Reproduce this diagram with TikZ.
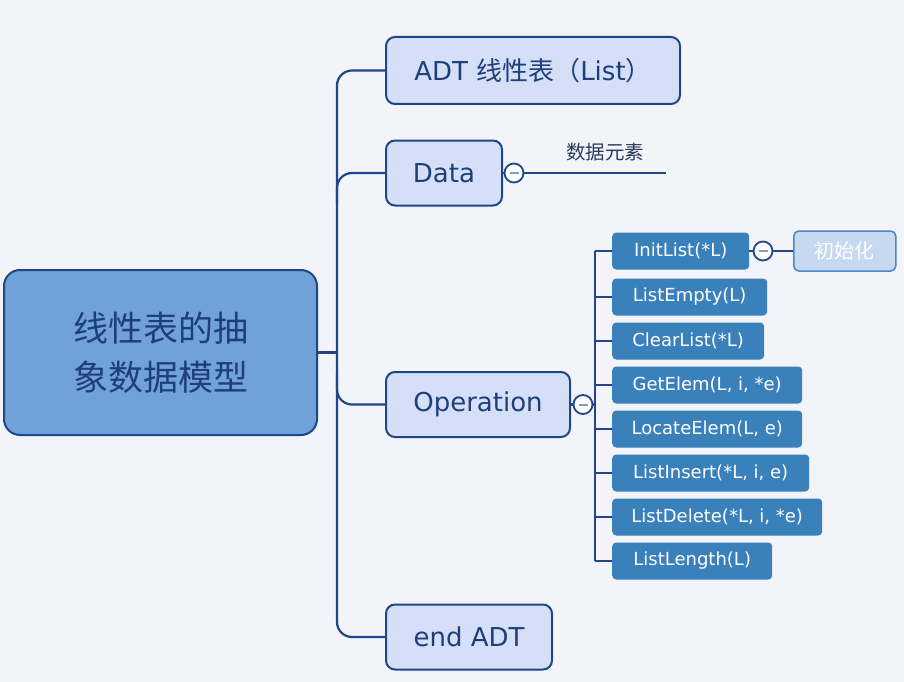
\documentclass[tikz,border=0pt]{standalone}
\usepackage{fontspec}
\setmainfont{DejaVu Sans}
\newfontfamily\cjk{Noto Sans CJK SC}
\usetikzlibrary{calc}
\definecolor{bgcol}{HTML}{F2F4FA}
\definecolor{lineblue}{HTML}{1F4788}
\definecolor{mainfill}{HTML}{D5DFF8}
\definecolor{textblue}{HTML}{1F3F7A}
\definecolor{rootfill}{HTML}{70A1D7}
\definecolor{childfill}{HTML}{3A80BB}
\definecolor{lightfill}{HTML}{C6D9F1}
\definecolor{initborder}{HTML}{4A89C5}
\definecolor{minusgray}{HTML}{8C98B8}
\definecolor{labeltext}{HTML}{2A3A5C}
\begin{document}
\begin{tikzpicture}[x=1pt,y=-1pt,
  conn/.style={draw=lineblue, line width=2.2pt},
  rootnode/.style={draw=lineblue, line width=2pt, fill=rootfill, rounded corners=16pt,
    text=textblue, font=\cjk\fontsize{35}{49}\selectfont, align=center,
    minimum width=313pt, minimum height=165pt, inner sep=0pt},
  mainnode/.style={draw=lineblue, line width=2pt, fill=mainfill, rounded corners=9pt,
    text=textblue, font=\fontsize{26}{30}\selectfont, minimum height=65pt,
    inner sep=0pt, anchor=west},
  childnode/.style={fill=childfill, text=white, rounded corners=4pt,
    font=\fontsize{18}{22}\selectfont, minimum height=37pt, inner sep=0pt, anchor=west},
  toggle/.style={circle, draw=lineblue, line width=1.8pt, fill=white, minimum size=19pt,
    inner sep=0pt, path picture={\draw[minusgray, line width=2pt]
      ([xshift=-4.5pt]path picture bounding box.center) -- ([xshift=4.5pt]path picture bounding box.center);}},
  leafnode/.style={draw=initborder, line width=1.5pt, fill=lightfill, rounded corners=5pt,
    text=white, font=\cjk\fontsize{20}{24}\selectfont, minimum width=102pt,
    minimum height=40pt, inner sep=0pt, anchor=west}]
\fill[bgcol] (0,0) rectangle (904,682);
\useasboundingbox (0,0) rectangle (904,682);

% root
\node[rootnode] (root) at (160.5,352.5) {线性表的抽\\象数据模型};

% main branches
\node[mainnode, minimum width=294pt, minimum height=67pt] (adt) at (385,70.5)
  {ADT {\cjk 线性表（}List{\cjk ）}};
\node[mainnode, minimum width=116pt] (data) at (385,173) {Data};
\node[mainnode, minimum width=184pt] (op) at (385,404.5) {Operation};
\node[mainnode, minimum width=166pt] (endadt) at (385,637) {end ADT};

\coordinate (tx) at (337,0);
\draw[conn, rounded corners=15pt] (adt.west) -- (adt.west -| tx) -- (endadt.west -| tx) -- (endadt.west);
\draw[conn] (root.east) -- (root.east -| tx);
\draw[conn, rounded corners=15pt] ($(data.west -| tx)+(0,30)$) -- (data.west -| tx) -- (data.west);
\draw[conn, rounded corners=15pt] ($(op.west -| tx)+(0,-30)$) -- (op.west -| tx) -- (op.west);

% Data leaf
\node[toggle] (dtog) at (514,173) {};
\coordinate (dend) at (666,173);
\draw[conn] (data.east) -- (dtog.west);
\draw[conn] (dtog.east) -- (dend);
\node[font=\cjk\fontsize{19.5}{22}\selectfont, text=labeltext, inner sep=0pt] (dlab) at (605,152) {数据元素};

% Operation children
\node[toggle] (otog) at (583,404.5) {};
\coordinate (vx) at (595,0);
\node[childnode, minimum width=137pt] (c1) at (612,251) {InitList(*L)};
\node[childnode, minimum width=155pt] (c2) at (612,297) {ListEmpty(L)};
\node[childnode, minimum width=152pt] (c3) at (612,341) {ClearList(*L)};
\node[childnode, minimum width=190pt] (c4) at (612,385) {GetElem(L, i, *e)};
\node[childnode, minimum width=190pt] (c5) at (612,429) {LocateElem(L, e)};
\node[childnode, minimum width=197pt] (c6) at (612,473) {ListInsert(*L, i, e)};
\node[childnode, minimum width=210pt] (c7) at (612,517) {ListDelete(*L, i, *e)};
\node[childnode, minimum width=160pt] (c8) at (612,561) {ListLength(L)};

\draw[conn] (op.east) -- (otog.west);
\draw[conn] (otog.east) -- (otog.east -| vx);
\draw[conn] (c1.west -| vx) -- (c8.west -| vx);
\foreach \c in {c1,c2,c3,c4,c5,c6,c7,c8}{
  \draw[conn] (\c.west -| vx) -- (\c.west);
}

% InitList leaf
\node[toggle] (itog) at (763,251) {};
\node[leafnode] (init) at (793,251) {初始化};
\draw[conn] (c1.east) -- (itog.west);
\draw[conn] (itog.east) -- (init.west);
\end{tikzpicture}
\end{document}
